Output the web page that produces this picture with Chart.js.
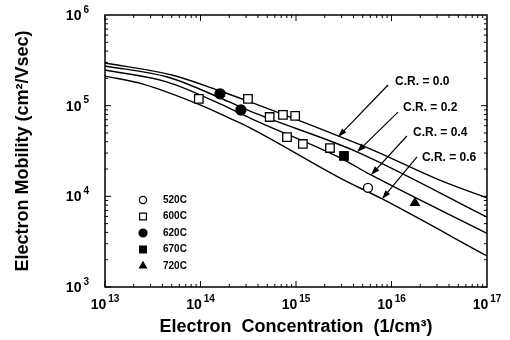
<!DOCTYPE html>
<html>
<head>
<meta charset="utf-8">
<script src="https://cdn.jsdelivr.net/npm/chart.js@4.4.0/dist/chart.umd.min.js"></script>
<style>
  html, body { margin: 0; padding: 0; background: #fff; }
  #wrap { width: 510px; height: 340px; }
</style>
</head>
<body>
<div id="wrap"><canvas id="mobility"></canvas></div>
<script>
// — model curves, one per compensation ratio —
const concCR00 = [1e13, 5.0e13, 1.5e14, 3.3e14, 2.8e15, 6.4e15, 3.2e16, 1e17];
const mobCR00  = [2.96e5, 2.18e5, 1.49e5, 1.10e5, 4.62e4, 3.24e4, 1.51e4, 9.6e3];
const concCR02 = [1e13, 4.5e13, 2.0e14, 3.3e14, 4.4e15, 1e17];
const mobCR02  = [2.74e5, 2.07e5, 1.10e5, 8.7e4, 3.08e4, 5.9e3];
const concCR04 = [1e13, 4.5e13, 2.0e14, 3.3e14, 2.9e15, 6.1e15, 1e17];
const mobCR04  = [2.47e5, 1.82e5, 9.4e4, 7.3e4, 2.65e4, 1.72e4, 3.9e3];
const concCR06 = [1e13, 2.5e13, 9.9e13, 2.0e14, 3.3e14, 2.9e15, 8.0e15, 1e17];
const mobCR06  = [2.12e5, 1.73e5, 1.02e5, 7.3e4, 5.7e4, 1.59e4, 9.35e3, 2.2e3];

// — measured samples by growth temperature —
const conc520 = [5.67e15];
const mob520  = [1.24e4];
const conc600 = [9.6e13, 3.14e14, 5.3e14, 7.3e14, 9.8e14, 8.05e14, 1.18e15, 2.27e15];
const mob600  = [1.19e5, 1.19e5, 7.5e4, 7.9e4, 7.7e4, 4.5e4, 3.78e4, 3.41e4];
const conc620 = [1.6e14, 2.65e14];
const mob620  = [1.35e5, 8.96e4];
const conc670 = [3.18e15];
const mob670  = [2.79e4];
const conc720 = [1.76e16];
const mob720  = [8.45e3];

const sampleLabels = ['520C', '600C', '620C', '670C', '720C'];
const crLabels     = ['C.R. = 0.0', 'C.R. = 0.2', 'C.R. = 0.4', 'C.R. = 0.6'];
const xExponents   = [13, 14, 15, 16, 17];
const yExponents   = [3, 4, 5, 6];

// arrow tail / tip and label anchor, in data units
const arrowTail  = [[9.2e15, 1.69e5], [1.17e16, 8.5e4], [1.45e16, 4.63e4], [1.85e16, 2.72e4]];
const arrowTip   = [[2.75e15, 4.51e4], [4.36e15, 3.08e4], [6.1e15, 1.72e4], [7.96e15, 9.35e3]];
const labelPoint = [[1.09e16, 1.82e5], [1.32e16, 9.4e4], [1.68e16, 5.0e4], [2.08e16, 2.65e4]];

const FONT = '"Liberation Sans", Arial, Helvetica, sans-serif';
const zip = (xs, ys) => xs.map((v, i) => ({ x: v, y: ys[i] }));

const curve = (xs, ys) => ({
  data: zip(xs, ys), showLine: true, pointRadius: 0, borderColor: '#000',
  borderWidth: 1.4, cubicInterpolationMode: 'monotone', order: 2,
});
const sample = (label, xs, ys, style, fill, r) => ({
  label, data: zip(xs, ys), pointStyle: style, pointRadius: r,
  backgroundColor: fill, borderColor: '#000', pointBorderWidth: 1.3, order: 1,
});

const samples = [
  sample(sampleLabels[0], conc520, mob520, 'circle',   '#fff', 4.5),
  sample(sampleLabels[1], conc600, mob600, 'rect',     '#fff', 6),
  sample(sampleLabels[2], conc620, mob620, 'circle',   '#000', 5),
  sample(sampleLabels[3], conc670, mob670, 'rect',     '#000', 6),
  sample(sampleLabels[4], conc720, mob720, 'triangle', '#000', 5),
];

function drawPower(ctx, exp, cx, cy, alignRight) {
  ctx.font = 'bold 14px ' + FONT;
  const wb = ctx.measureText('10').width;
  ctx.font = 'bold 10px ' + FONT;
  const we = ctx.measureText(String(exp)).width;
  const gap = 2;
  const left = alignRight ? cx - (wb + gap + we) : cx - (wb + gap + we) / 2;
  ctx.textAlign = 'left';
  ctx.textBaseline = 'middle';
  ctx.font = 'bold 14px ' + FONT;
  ctx.fillText('10', left, cy);
  ctx.font = 'bold 10px ' + FONT;
  ctx.fillText(String(exp), left + wb + gap, cy - 6);
}

// frame, inward ticks, power-of-ten labels, legend and C.R. arrows
const decorations = {
  id: 'decorations',
  afterDraw(chart) {
    const { ctx, chartArea: a, scales: { x, y } } = chart;
    ctx.save();
    ctx.strokeStyle = '#000';
    ctx.fillStyle = '#000';

    ctx.lineWidth = 1.5;
    ctx.strokeRect(a.left, a.top, a.right - a.left, a.bottom - a.top);

    ctx.lineWidth = 1;
    ctx.beginPath();
    for (let e = xExponents[0]; e < xExponents[xExponents.length - 1]; e++) {
      for (let m = 1; m < 10; m++) {
        const px = x.getPixelForValue(m * 10 ** e);
        const len = m === 1 ? 6 : 3;
        ctx.moveTo(px, a.bottom); ctx.lineTo(px, a.bottom - len);
        ctx.moveTo(px, a.top);    ctx.lineTo(px, a.top + len);
      }
    }
    for (let e = yExponents[0]; e < yExponents[yExponents.length - 1]; e++) {
      for (let m = 1; m < 10; m++) {
        const py = y.getPixelForValue(m * 10 ** e);
        const len = m === 1 ? 6 : 3;
        ctx.moveTo(a.left, py);  ctx.lineTo(a.left + len, py);
        ctx.moveTo(a.right, py); ctx.lineTo(a.right - len, py);
      }
    }
    ctx.stroke();

    xExponents.forEach(e => drawPower(ctx, e, x.getPixelForValue(10 ** e), a.bottom + 18, false));
    yExponents.forEach(e => drawPower(ctx, e, a.left - 16, y.getPixelForValue(10 ** e) + 1, true));

    // legend, lower left of the plot
    samples.forEach((ds, i) => {
      const ly = a.bottom - 87 + i * 16.5;
      ctx.fillStyle = ds.backgroundColor;
      ctx.lineWidth = 1.2;
      Chart.helpers.drawPoint(ctx, { pointStyle: ds.pointStyle, radius: ds.pointRadius * 0.8, borderWidth: 1.2, rotation: 0 }, a.left + 38, ly);
      ctx.fillStyle = '#000';
      ctx.font = 'bold 10px ' + FONT;
      ctx.textAlign = 'left';
      ctx.textBaseline = 'middle';
      ctx.fillText(ds.label, a.left + 58, ly);
    });

    // compensation-ratio callouts
    crLabels.forEach((txt, i) => {
      const tx = x.getPixelForValue(arrowTail[i][0]), ty = y.getPixelForValue(arrowTail[i][1]);
      const hx = x.getPixelForValue(arrowTip[i][0]),  hy = y.getPixelForValue(arrowTip[i][1]);
      const ang = Math.atan2(hy - ty, hx - tx);
      ctx.lineWidth = 1.2;
      ctx.beginPath();
      ctx.moveTo(tx, ty);
      ctx.lineTo(hx - 6 * Math.cos(ang), hy - 6 * Math.sin(ang));
      ctx.stroke();
      ctx.beginPath();
      ctx.moveTo(hx, hy);
      ctx.lineTo(hx - 9 * Math.cos(ang) + 3 * Math.sin(ang), hy - 9 * Math.sin(ang) - 3 * Math.cos(ang));
      ctx.lineTo(hx - 9 * Math.cos(ang) - 3 * Math.sin(ang), hy - 9 * Math.sin(ang) + 3 * Math.cos(ang));
      ctx.closePath();
      ctx.fill();

      ctx.font = 'bold 12px ' + FONT;
      ctx.textAlign = 'left';
      ctx.textBaseline = 'middle';
      ctx.fillText(txt, x.getPixelForValue(labelPoint[i][0]), y.getPixelForValue(labelPoint[i][1]));
    });
    ctx.restore();
  },
};

new Chart(document.getElementById('mobility'), {
  type: 'scatter',
  data: {
    datasets: [
      ...samples,
      curve(concCR00, mobCR00),
      curve(concCR02, mobCR02),
      curve(concCR04, mobCR04),
      curve(concCR06, mobCR06),
    ],
  },
  options: {
    responsive: true, maintainAspectRatio: false, animation: false,
    layout: { padding: { top: 15, right: 23, bottom: 0, left: 0 } },
    plugins: { legend: { display: false }, tooltip: { enabled: false } },
    scales: {
      x: {
        type: 'logarithmic', position: 'bottom', min: 1e13, max: 1e17,
        grid: { display: false }, border: { display: false },
        ticks: { display: false },
        title: { display: true, text: 'Electron  Concentration  (1/cm³)', color: '#000',
                 font: { family: FONT, size: 18, weight: 'bold' }, padding: { top: 0, bottom: 2 } },
        afterFit: s => { s.height = 53; },
      },
      y: {
        type: 'logarithmic', position: 'left', min: 1e3, max: 1e6,
        grid: { display: false }, border: { display: false },
        ticks: { display: false },
        title: { display: true, text: 'Electron Mobility (cm²/Vsec)', color: '#000',
                 font: { family: FONT, size: 18, weight: 'bold' }, padding: { top: 12, bottom: 0 } },
        afterFit: s => { s.width = 105; },
      },
    },
  },
  plugins: [decorations],
});
</script>
</body>
</html>
